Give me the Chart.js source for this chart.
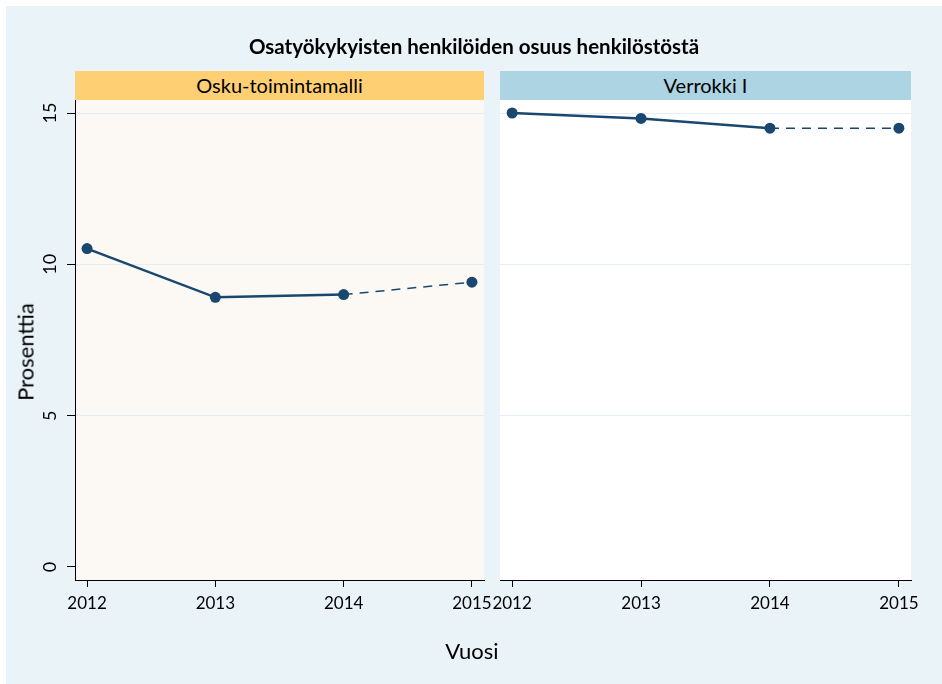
<!DOCTYPE html>
<html>
<head>
<meta charset="utf-8">
<script src="https://cdn.jsdelivr.net/npm/chart.js@4"></script>
<style>
  body { margin: 0; background: #ffffff; }
  #page { position: relative; width: 942px; height: 684px; background: #ffffff; overflow: hidden; font-family: Lato, "DejaVu Sans", sans-serif; color: #000; }
  #bg { position: absolute; left: 6px; top: 6px; right: 0; bottom: 0; background: #E9F3F8; }
  canvas { position: absolute; left: 0; top: 0; }
  .txt { position: absolute; white-space: nowrap; }
  #title { left: 0; width: 948px; top: 34px; text-align: center; font-size: 20.5px; font-weight: bold; }
  .hdr { position: absolute; top: 71px; height: 29px; line-height: 29px; text-align: center; font-size: 20px; }
  #xtitle { left: 372px; width: 200px; top: 637px; text-align: center; font-size: 22px; }
  #ytitle { left: 25px; top: 352px; font-size: 22px; transform: translate(-50%, -50%) rotate(-90deg); }
</style>
</head>
<body>
<div id="page">
  <div id="bg"></div>
  <div id="hdr1" class="hdr" style="left:75px;width:409px;background:#FFCF73;"></div>
  <div id="hdr2" class="hdr" style="left:500px;width:411px;background:#ADD4E2;"></div>
  <canvas id="c1" width="942" height="684"></canvas>
  <canvas id="c2" width="942" height="684"></canvas>
  <div id="title" class="txt"></div>
  <div id="xtitle" class="txt"></div>
  <div id="ytitle" class="txt"></div>
</div>
<script>
// ---- data ----
const chartTitle = 'Osatyökykyisten henkilöiden osuus henkilöstöstä';
const panelTitles = ['Osku-toimintamalli', 'Verrokki I'];
const xAxisTitle = 'Vuosi';
const yAxisTitle = 'Prosenttia';
const years = [2012, 2013, 2014, 2015];
const xTickLabels = ['2012', '2013', '2014', '2015'];
const yTickValues = [0, 5, 10, 15];
const yTickLabels = ['0', '5', '10', '15'];
const oskuValues = [10.52, 8.91, 9.0, 9.41];
const verrokkiValues = [15.0, 14.82, 14.5, 14.5];

document.getElementById('title').textContent = chartTitle;
document.getElementById('hdr1').textContent = panelTitles[0];
document.getElementById('hdr2').textContent = panelTitles[1];
document.getElementById('xtitle').textContent = xAxisTitle;
document.getElementById('ytitle').textContent = yAxisTitle;

const LINE = '#1A476F';
const GRID = '#E4EEF3';
const FONT = 'Lato, "DejaVu Sans", sans-serif';

function panelBg(color) {
  return {
    id: 'panelBg',
    beforeDraw(chart) {
      const a = chart.chartArea, c = chart.ctx;
      c.save(); c.fillStyle = color; c.fillRect(a.left, a.top, a.right - a.left, a.bottom - a.top); c.restore();
    }
  };
}

const yLabelPlugin = {
  id: 'yLabels',
  afterDraw(chart) {
    const s = chart.scales.y, c = chart.ctx;
    c.save();
    c.fillStyle = '#000';
    c.font = '18px ' + FONT;
    c.textAlign = 'center';
    c.textBaseline = 'middle';
    yTickValues.forEach((v, i) => {
      const y = s.getPixelForValue(v);
      c.save(); c.translate(50, y); c.rotate(-Math.PI / 2);
      c.fillText(yTickLabels[i], 0, 0);
      c.restore();
    });
    c.restore();
  }
};

function makeChart(id, values, bg, padLeft, padRight, yWidth, showYAxis) {
  const data = years.map((x, i) => ({ x: x, y: values[i] }));
  return new Chart(document.getElementById(id), {
    type: 'line',
    data: {
      datasets: [{
        data: data,
        borderColor: LINE,
        backgroundColor: LINE,
        pointBackgroundColor: LINE,
        pointBorderColor: LINE,
        pointRadius: 5.5,
        pointBorderWidth: 0,
        borderWidth: 2.5,
        tension: 0,
        segment: {
          borderDash: ctx => ctx.p0DataIndex >= 2 ? [9, 7] : undefined,
          borderWidth: ctx => ctx.p0DataIndex >= 2 ? 1.5 : 2.5
        }
      }]
    },
    options: {
      responsive: false,
      animation: false,
      devicePixelRatio: 1,
      layout: { padding: { left: padLeft, right: padRight, top: 100, bottom: 44 } },
      plugins: { legend: { display: false }, tooltip: { enabled: false }, title: { display: false } },
      scales: {
        x: {
          type: 'linear',
          min: 2011.906,
          max: 2015.094,
          afterBuildTicks: s => { s.ticks = years.map(v => ({ value: v })); },
          afterFit: s => { s.height = 60; s.paddingLeft = 0; s.paddingRight = 0; },
          ticks: {
            color: '#000',
            font: { family: FONT, size: 17 },
            padding: 6,
            maxRotation: 0,
            minRotation: 0,
            autoSkip: false,
            callback: (v) => { const i = years.indexOf(v); return i >= 0 ? xTickLabels[i] : ''; }
          },
          grid: { drawOnChartArea: false, drawTicks: true, tickLength: 7, tickColor: '#000', tickWidth: 1 },
          border: { display: true, color: '#000', width: 1 }
        },
        y: {
          type: 'linear',
          min: -0.43,
          max: 15.43,
          afterBuildTicks: s => { s.ticks = yTickValues.map(v => ({ value: v })); },
          afterFit: s => { s.width = yWidth; s.paddingTop = 0; s.paddingBottom = 0; },
          ticks: { display: false },
          grid: {
            drawOnChartArea: true,
            drawTicks: showYAxis,
            tickLength: 8,
            tickColor: '#000',
            tickWidth: 1,
            lineWidth: 1,
            color: ctx => (ctx.tick && ctx.tick.value === 0) ? 'rgba(0,0,0,0)' : GRID
          },
          border: { display: showYAxis, color: '#000', width: 1 }
        }
      }
    },
    plugins: showYAxis ? [panelBg(bg), yLabelPlugin] : [panelBg(bg)]
  });
}

makeChart('c1', oskuValues, '#FCF9F4', 0, 942 - 484, 75, true);
makeChart('c2', verrokkiValues, '#FFFFFF', 500, 942 - 911, 0, false);
</script>
</body>
</html>
